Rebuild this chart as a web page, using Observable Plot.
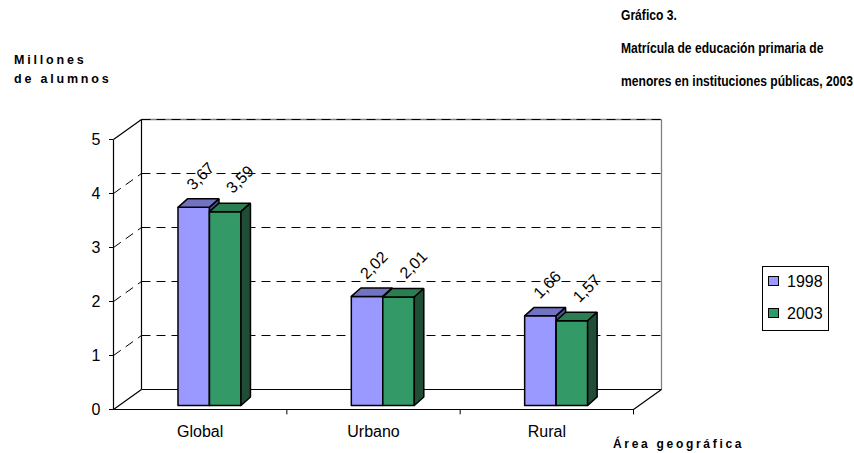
<!DOCTYPE html>
<html>
<head>
<meta charset="utf-8">
<script src="https://cdn.jsdelivr.net/npm/d3@7"></script>
<script src="https://cdn.jsdelivr.net/npm/@observablehq/plot@0.6"></script>
<style>
  body { margin: 0; background: #fff; font-family: "Liberation Sans", Arial, sans-serif; color: #000; }
  #wrap { position: relative; width: 854px; height: 453px; overflow: hidden; background: #fff; }
  #chart svg { position: absolute; left: 0; top: 0; }
  .title { position: absolute; left: 621px; top: -2px; font-weight: bold; font-size: 15px; line-height: 33px; white-space: nowrap; transform-origin: 0 0; }
  .title span { display: inline-block; }
  .ylab { position: absolute; left: 14px; top: 51px; font-weight: bold; font-size: 12.5px; line-height: 19px; letter-spacing: 2.8px; white-space: nowrap; }
  .xlab { position: absolute; left: 613px; top: 437px; font-weight: bold; font-size: 12px; line-height: 14px; letter-spacing: 2.7px; white-space: nowrap; }
  .legend { position: absolute; left: 762px; top: 266px; width: 65px; height: 63px; border: 1px solid #000; }
  .legend .item { position: absolute; left: 5px; font-size: 16px; line-height: 18px; white-space: nowrap; }
  .legend .sw { display: inline-block; width: 9px; height: 8px; border: 1px solid #000; margin-right: 8px; vertical-align: 1px; }
</style>
</head>
<body>
<div id="wrap">
  <div id="chart"></div>
  <div class="title" id="title"></div>
  <div class="ylab" id="ylab"></div>
  <div class="xlab" id="xlab"></div>
  <div class="legend" id="legend"></div>
</div>
<script>
// ---- data ----
const categories = ["Global", "Urbano", "Rural"];
const series = ["1998", "2003"];
const values1998 = [3.67, 2.02, 1.66];
const values2003 = [3.59, 2.01, 1.57];
const yTicks = [0, 1, 2, 3, 4, 5];
const gridValues = [1, 2, 3, 4];
const titleLines = ["Gráfico 3.", "Matrícula de educación primaria de", "menores en instituciones públicas, 2003"];
const yLabelLines = ["Millones", "de alumnos"];
const xLabel = "Área geográfica";

// ---- styles / geometry ----
const colors = {
  "1998": {front: "#9999FF", top: "#7272C2", side: "#4D4D99"},
  "2003": {front: "#339966", top: "#2B7D52", side: "#1F4D36"}
};
const DEPTH_X = 0.1615, DEPTH_Y = 0.37;      // depth of the 3D box
const BAR_DX = 0.0548, BAR_DY = 0.157;       // depth of each bar
const BAR_BASE = 0.074, BAR_W = 0.1817;
const BAR_OFF = {"1998": -0.128, "2003": 0.0537};
const TITLE_WIDTH = 232;                      // width of the widest title line (px)
const valuesBySeries = {"1998": values1998, "2003": values2003};

const bars = categories.flatMap((c, i) => series.map(s => ({cat: c, i, series: s, value: valuesBySeries[s][i]})));

// polygons for bar faces
const polys = [];
bars.forEach((b, k) => {
  const x1 = b.i + BAR_OFF[b.series], x2 = x1 + BAR_W;
  const y0 = BAR_BASE, y1 = BAR_BASE + b.value;
  const faces = {
    front: [[x1, y0], [x2, y0], [x2, y1], [x1, y1], [x1, y0]],
    top: [[x1, y1], [x2, y1], [x2 + BAR_DX, y1 + BAR_DY], [x1 + BAR_DX, y1 + BAR_DY], [x1, y1]],
    side: [[x2, y0], [x2 + BAR_DX, y0 + BAR_DY], [x2 + BAR_DX, y1 + BAR_DY], [x2, y1], [x2, y0]]
  };
  for (const f of ["front", "top", "side"]) {
    faces[f].forEach(([x, y]) => polys.push({id: `${k}-${f}`, x, y, fill: colors[b.series][f]}));
  }
});

const x0 = -0.5, xEnd = categories.length - 0.5, yMax = yTicks[yTicks.length - 1];
const solidLinks = [
  {x1: x0, y1: 0, x2: x0 + DEPTH_X, y2: DEPTH_Y},
  {x1: xEnd, y1: 0, x2: xEnd + DEPTH_X, y2: DEPTH_Y},
  {x1: x0 + DEPTH_X, y1: DEPTH_Y, x2: xEnd + DEPTH_X, y2: DEPTH_Y},
  {x1: x0 + DEPTH_X, y1: DEPTH_Y, x2: x0 + DEPTH_X, y2: yMax + DEPTH_Y},
  {x1: x0, y1: yMax, x2: x0 + DEPTH_X, y2: yMax + DEPTH_Y},
  {x1: x0, y1: 0, x2: xEnd, y2: 0},
  {x1: x0, y1: 0, x2: x0, y2: yMax}
];
const grayLinks = [
  {x1: xEnd + DEPTH_X, y1: DEPTH_Y, x2: xEnd + DEPTH_X, y2: yMax + DEPTH_Y},
  {x1: x0 + DEPTH_X, y1: yMax + DEPTH_Y, x2: xEnd + DEPTH_X, y2: yMax + DEPTH_Y}
];
const dashLinks = gridValues.flatMap(v => [
  {x1: x0, y1: v, x2: x0 + DEPTH_X, y2: v + DEPTH_Y},
  {x1: x0 + DEPTH_X, y1: v + DEPTH_Y, x2: xEnd + DEPTH_X, y2: v + DEPTH_Y}
]).concat([{x1: x0 + DEPTH_X, y1: yMax + DEPTH_Y, x2: xEnd + DEPTH_X, y2: yMax + DEPTH_Y}]);

const fmt = v => d3.format(".2f")(v).replace(".", ",");
const barCenter = d => d.i + BAR_OFF[d.series] + BAR_W / 2;

const chart = Plot.plot({
  width: 854,
  height: 453,
  marginLeft: 113,
  marginRight: 221,
  marginTop: 139,
  marginBottom: 44,
  x: {domain: [x0, xEnd]},
  y: {domain: [0, yMax]},
  color: {type: "identity"},
  style: {fontFamily: "'Liberation Sans', Arial, sans-serif", background: "transparent", overflow: "visible"},
  marks: [
    Plot.link(grayLinks, {x1: "x1", y1: "y1", x2: "x2", y2: "y2", stroke: "#808080", strokeWidth: 1.3}),
    Plot.link(dashLinks, {x1: "x1", y1: "y1", x2: "x2", y2: "y2", stroke: "#000", strokeWidth: 1, strokeDasharray: "9,6"}),
    Plot.link(solidLinks, {x1: "x1", y1: "y1", x2: "x2", y2: "y2", stroke: "#000", strokeWidth: 1.2}),
    Plot.ruleX([0.5, 1.5, 2.5], {y1: 0, y2: -0.1, stroke: "#000"}),
    Plot.line(polys, {x: "x", y: "y", z: "id", fill: "fill", stroke: "#000", strokeWidth: 1.5, strokeLinejoin: "miter", curve: "linear"}),
    Plot.text(bars.filter(d => d.series === "1998"), {x: barCenter, y: d => BAR_BASE + d.value, text: d => fmt(d.value), rotate: -45, dx: 7, dy: -31, fontSize: 16}),
    Plot.text(bars.filter(d => d.series === "2003"), {x: barCenter, y: d => BAR_BASE + d.value, text: d => fmt(d.value), rotate: -45, dx: 15, dy: -32, fontSize: 16}),
    Plot.axisY({ticks: yTicks, tickSize: 4, tickPadding: 9, fontSize: 16, label: null, tickFormat: d => String(d)}),
    Plot.axisX({ticks: [0, 1, 2], tickFormat: i => categories[i], tickSize: 0, tickPadding: 16, fontSize: 16, label: null})
  ]
});
document.getElementById("chart").appendChild(chart);

const titleEl = document.getElementById("title");
titleEl.innerHTML = titleLines.map(t => `<span>${t}</span>`).join("<br>");
const widest = Math.max(...Array.from(titleEl.querySelectorAll("span")).map(s => s.getBoundingClientRect().width));
titleEl.style.transform = `scaleX(${TITLE_WIDTH / widest})`;

document.getElementById("ylab").innerHTML = yLabelLines.join("<br>");
document.getElementById("xlab").textContent = xLabel;
const legend = document.getElementById("legend");
series.forEach((s, k) => {
  const item = document.createElement("div");
  item.className = "item";
  item.style.top = (6 + k * 32) + "px";
  item.innerHTML = `<span class="sw" style="background:${colors[s].front}"></span>${s}`;
  legend.appendChild(item);
});
</script>
</body>
</html>
